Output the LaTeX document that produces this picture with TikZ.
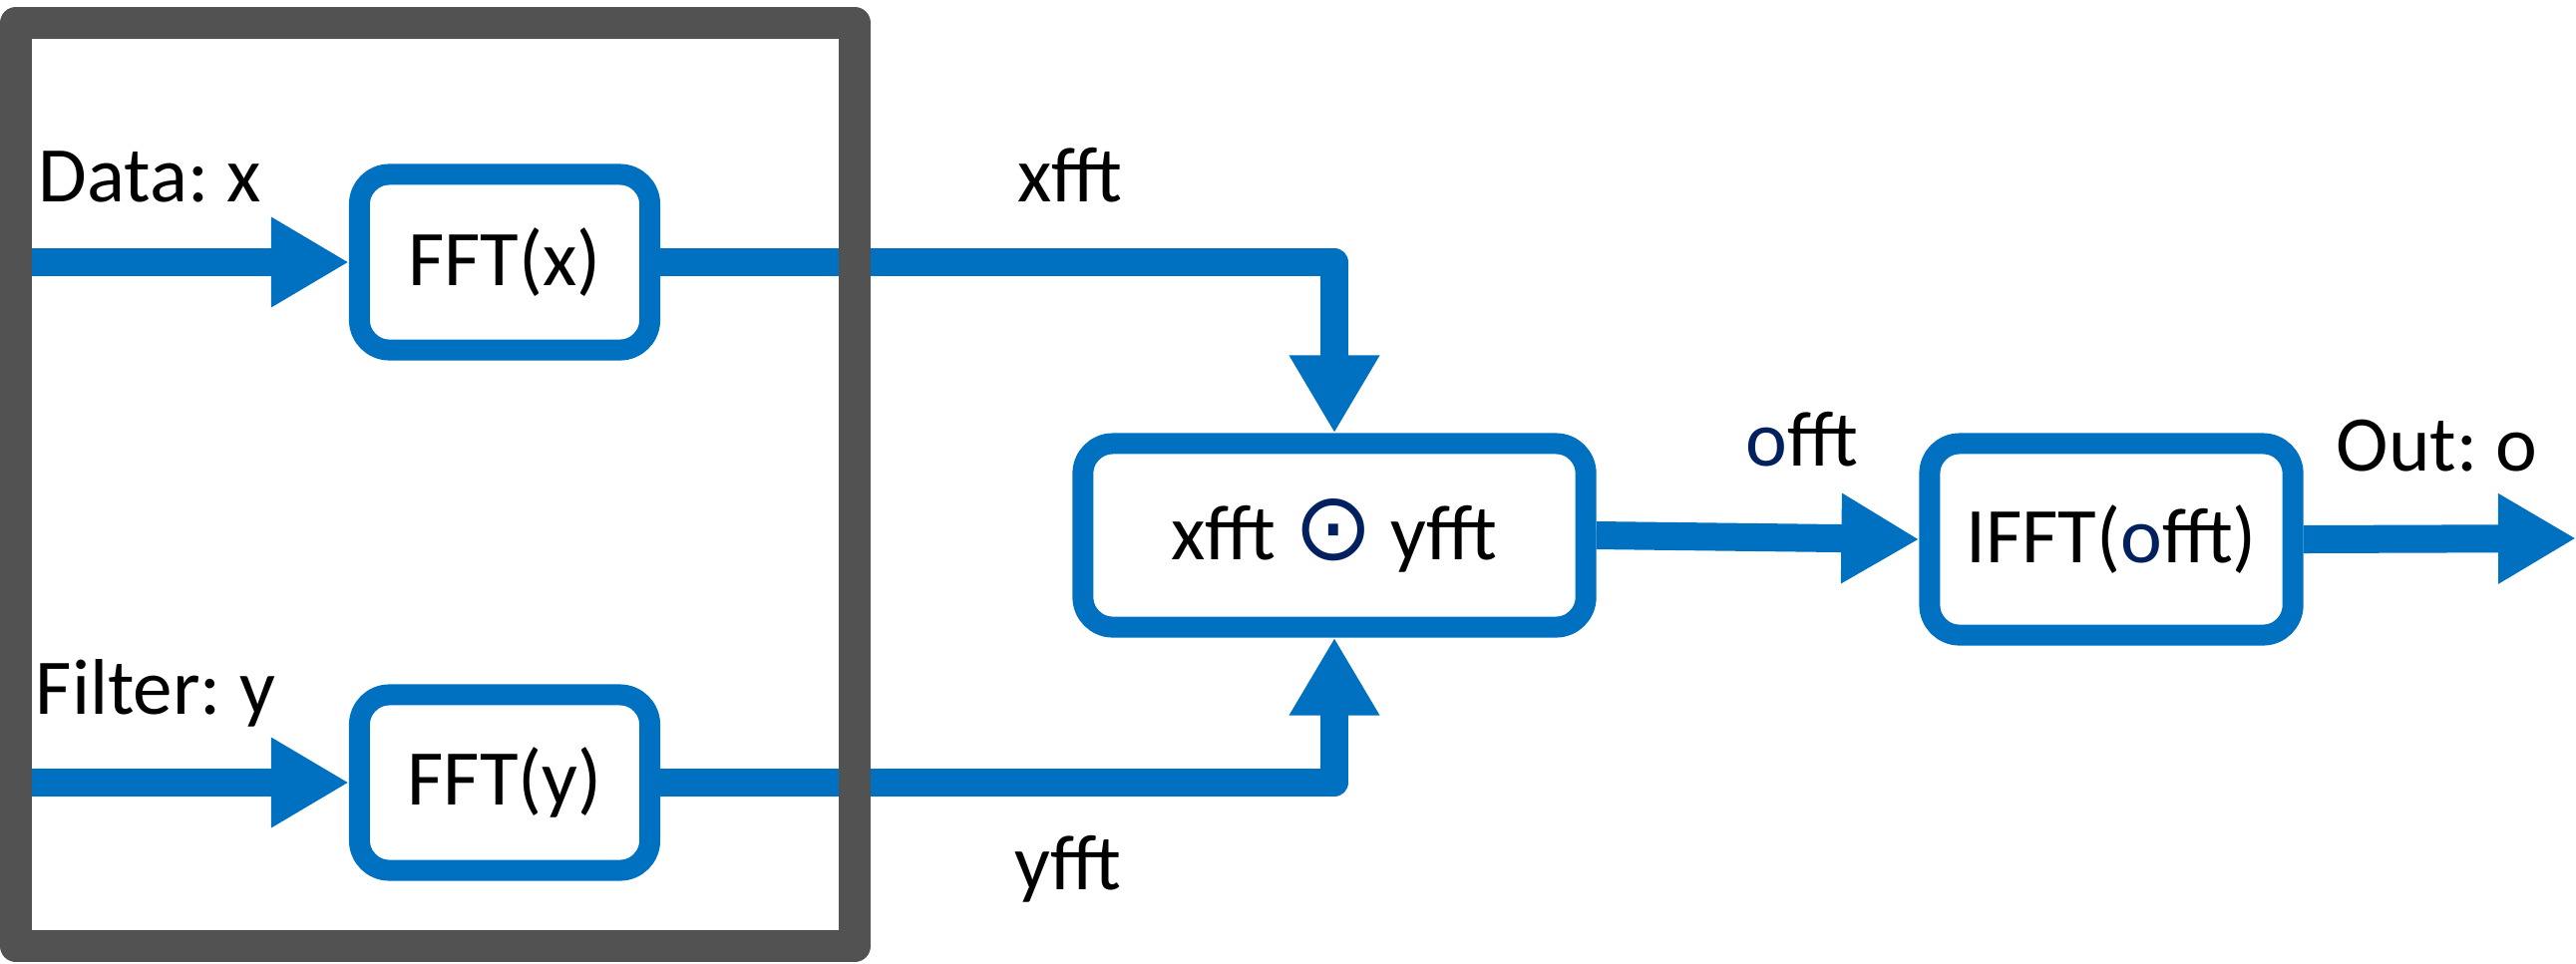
\documentclass[tikz,border=0pt]{standalone}
\usepackage{fontspec}
\setmainfont{Carlito}
\newfontfamily\symfont{DejaVu Sans}
\usetikzlibrary{arrows.meta}
\frenchspacing

\definecolor{fftblue}{HTML}{0070C0}
\definecolor{framegray}{HTML}{525252}
\definecolor{navy}{HTML}{002060}
\newcommand{\lblfont}{\fontsize{22.5pt}{27pt}\selectfont}

\begin{document}
\begin{tikzpicture}[x=0.01cm, y=-0.01cm,
    block/.style={draw=fftblue, line width=0.21cm, rounded corners=0.3cm, fill=white, font=\lblfont},
    flow/.style={draw=fftblue, line width=0.28cm, line join=round, -{Triangle[length=0.78cm, width=0.85cm]}},
    lbl/.style={font=\lblfont, anchor=base west, inner sep=0pt}]
    \useasboundingbox (0,0) rectangle (2583,966);

    % Blocks
    \node[block, minimum width=2.91cm, minimum height=1.76cm] (fftx) at (506,263) {FFT(x)};
    \node[block, minimum width=2.91cm, minimum height=1.76cm] (ffty) at (506,785) {FFT(y)};
    \node[block, minimum width=5.04cm, minimum height=1.84cm] (mult) at (1338,537) {xfft {\symfont\color{navy}\fontsize{27pt}{27pt}\selectfont ⊙} yfft};
    \node[block, minimum width=3.64cm, minimum height=1.92cm] (ifft) at (2117,541) {IFFT(\textcolor{navy}{o}fft)};

    % Inputs and output
    \coordinate (xin) at (16,263);
    \coordinate (yin) at (16,785);
    \coordinate (oout) at (2583,540);
    \draw[flow] (xin) -- (fftx.west);
    \draw[flow] (yin) -- (ffty.west);
    \draw[flow] (fftx.east) -| (mult.north);
    \draw[flow] (ffty.east) -| (mult.south);
    \draw[flow] (mult.east) -- (ifft.west);
    \draw[flow] (ifft.east) -- (oout);

    % Labels
    \node[lbl] (datalbl) at (38,202) {Data: x};
    \node[lbl] (filterlbl) at (35,716) {Filter: y};
    \node[lbl] (xfftlbl) at (1020,202) {xfft};
    \node[lbl] (yfftlbl) at (1017,892) {yfft};
    \node[lbl] (offtlbl) at (1750,467) {\textcolor{navy}{o}fft};
    \node[lbl] (outlbl) at (2342,472) {Out: o};

    % Frame
    \draw[draw=framegray, line width=0.32cm, line join=round] (16,23) rectangle (857,949);
\end{tikzpicture}
\end{document}
